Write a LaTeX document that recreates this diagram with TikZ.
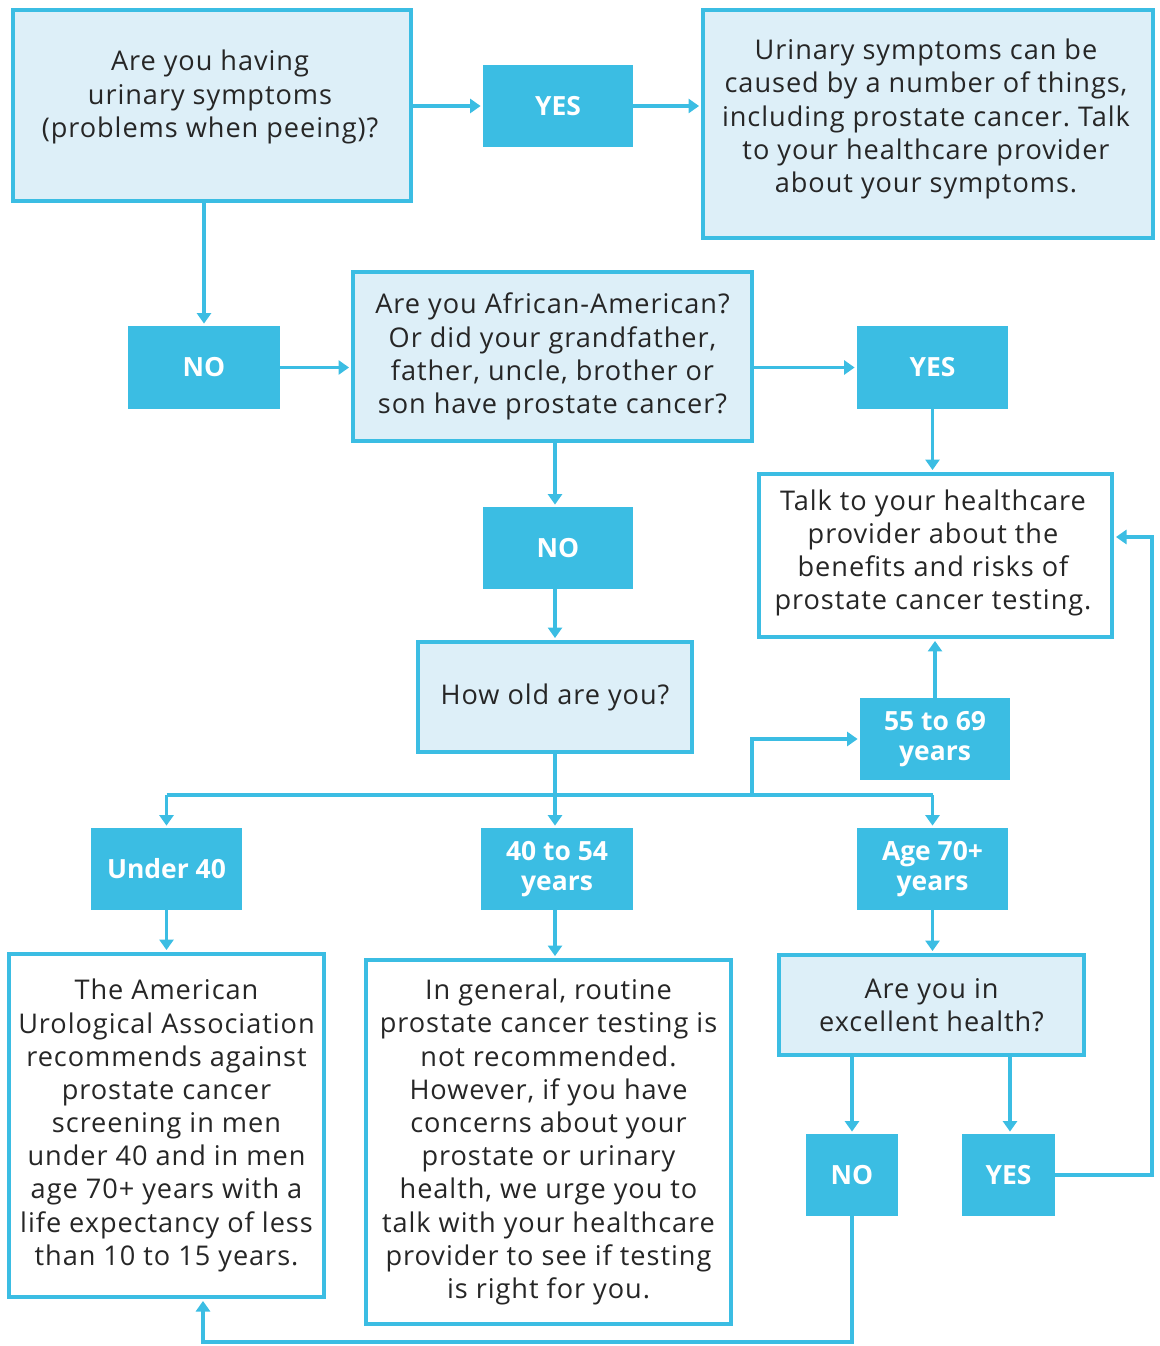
\documentclass[tikz,border=0pt]{standalone}
\usepackage{fontspec}
\setmainfont{Open Sans}
\newfontfamily\bodyfont[LetterSpace=3.5]{Open Sans}
\usetikzlibrary{arrows.meta,calc}
\definecolor{cyanfill}{HTML}{3BBDE3}
\definecolor{cyanline}{HTML}{3BBDE3}
\definecolor{lightfill}{HTML}{DDEFF8}
\definecolor{txt}{HTML}{262626}
\frenchspacing
\tikzset{
  wh/.style 2 args={minimum width=#1*0.025cm, minimum height=#2*0.025cm},
  qbox/.style={draw=cyanline, line width=2.6pt, fill=lightfill, text=txt, align=center, inner sep=0pt,
    font=\bodyfont\fontsize{19.3}{23.6}\selectfont},
  wbox/.style={qbox, fill=white},
  lbl/.style={fill=cyanfill, draw=none, text=white, align=center, inner sep=0pt,
    font=\fontsize{18.8}{21}\selectfont\bfseries},
  txtnode/.style={text=txt, align=center, inner sep=0pt, font=\bodyfont\fontsize{19.3}{23.6}\selectfont},
  arr/.style={draw=cyanline, line width=2.6pt, -{Triangle[length=7.5pt,width=10pt]}, shorten >=1.5pt},
  ln/.style={draw=cyanline, line width=2.6pt},
}
\begin{document}
\begin{tikzpicture}[x=0.025cm, y=-0.025cm]
\useasboundingbox (0,0) rectangle (1159,1346);
% boxes
\node[qbox, wh={398}{191}] (q1) at (212,105.5) {};
\node[txtnode] (q1t) at (210,97) {Are you having\\urinary symptoms\\(problems when peeing)?};
\node[lbl, wh={150}{82}] (yes1) at (558,106) {YES};
\node[qbox, wh={450}{228}] (info) at (928,124) {};
\node[txtnode] (infot) at (926,119) {Urinary symptoms can be\\caused by a number of things,\\including prostate cancer. Talk\\to your healthcare provider\\about your symptoms.};
\node[lbl, wh={152}{83}] (no1) at (204,367.5) {NO};
\node[qbox, wh={399}{169}] (q2) at (552.5,356.5) {Are you African-American?\\Or did your grandfather,\\father, uncle, brother or\\son have prostate cancer?};
\node[lbl, wh={151}{83}] (yes2) at (932.5,367.5) {YES};
\node[wbox, wh={353}{163}] (talk) at (935.5,555.5) {};
\node[txtnode] (talkt) at (933,553) {Talk to your healthcare\\provider about the\\benefits and risks of\\prostate cancer testing.};
\node[lbl, wh={150}{82}] (no2) at (558,548) {NO};
\node[qbox, wh={274}{110}] (old) at (555,697) {How old are you?};
\node[lbl, wh={150}{82}] (a55) at (935,739) {55 to 69\\years};
\node[lbl, wh={151}{82}] (u40) at (166.5,869) {Under 40};
\node[lbl, wh={152}{82}] (a40) at (557,869) {40 to 54\\years};
\node[lbl, wh={151}{82}] (a70) at (932.5,869) {Age 70+\\years};
\node[wbox, wh={315}{343}] (aua) at (166.5,1125.5) {The American\\Urological Association\\recommends against\\prostate cancer\\screening in men\\under 40 and in men\\age 70+ years with a\\life expectancy of less\\than 10 to 15 years.};
\node[wbox, wh={365}{364}] (gen) at (548.5,1142) {In general, routine\\prostate cancer testing is\\not recommended.\\However, if you have\\concerns about your\\prostate or urinary\\health, we urge you to\\talk with your healthcare\\provider to see if testing\\is right for you.};
\node[qbox, wh={305}{100}] (exc) at (931.5,1005) {Are you in\\excellent health?};
\node[lbl, wh={92}{82}] (no3) at (852,1175) {NO};
\node[lbl, wh={93}{82}] (yes3) at (1008.5,1175) {YES};
% helper coordinates
\coordinate (br) at (555,795);
\coordinate (split) at (752,795);
\coordinate (rt) at (1152,537);
\coordinate (bt) at (203,1342);
% connectors
\draw[arr] (q1.east |- yes1.west) -- (yes1.west);
\draw[arr] (yes1.east) -- (info.west |- yes1.east);
\draw[arr] (q1.south -| no1.north) -- (no1.north);
\draw[arr] (no1.east) -- (q2.west |- no1.east);
\draw[arr] (q2.east |- yes2.west) -- (yes2.west);
\draw[arr] (yes2.south) -- (talk.north -| yes2.south);
\draw[arr] (q2.south -| old.north) -- (no2.north -| old.north);
\draw[arr] (no2.south -| old.north) -- (old.north);
\draw[ln] (old.south) -- (br);
\draw[ln] (u40.north |- br) -- (a70.north |- br);
\draw[arr] (u40.north |- br) -- (u40.north);
\draw[arr] (br) -- (a40.north -| br);
\draw[arr] (a70.north |- br) -- (a70.north);
\draw[arr] (split) |- (a55.west);
\draw[arr] (a55.north) -- (talk.south -| a55.north);
\draw[arr] (u40.south) -- (aua.north -| u40.south);
\draw[arr] (a40.south -| br) -- (gen.north -| br);
\draw[arr] (a70.south) -- (exc.north -| a70.south);
\draw[arr] (exc.south -| no3.north) -- (no3.north);
\draw[arr] ($(exc.south -| yes3.north)+(1.5,0)$) -- ($(yes3.north)+(1.5,0)$);
\draw[arr] (yes3.east) -| (rt) -- (talk.east |- rt);
\draw[arr] (no3.south) |- (bt) -- (aua.south -| bt);
\end{tikzpicture}
\end{document}
